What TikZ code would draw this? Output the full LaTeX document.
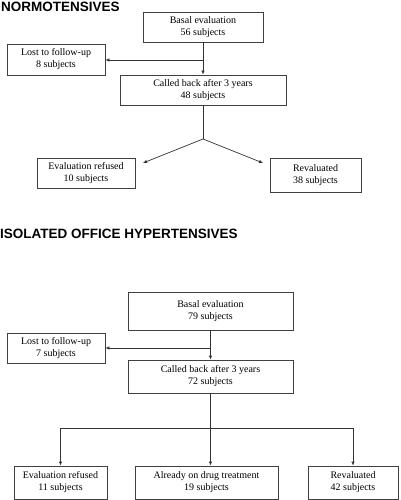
\documentclass[tikz,border=0pt]{standalone}
\usepackage{fontspec}
\setmainfont{Liberation Serif}
\newfontfamily\boxfont{Liberation Serif}
\newfontfamily\titlefont{Liberation Sans}
\usetikzlibrary{arrows.meta}
\begin{document}
\begin{tikzpicture}[x=1pt,y=-1pt,
  box/.style={draw=black!75,line width=0.7pt,align=center,font=\boxfont\fontsize{10}{12}\selectfont,inner sep=0pt},
  conn/.style={draw=black!80,line width=0.7pt},
  arr/.style={conn,-{Latex[length=4pt,width=3.5pt]}},
  ttl/.style={anchor=west,inner sep=0pt,font=\titlefont\bfseries\fontsize{13.5}{15}\selectfont}]
\useasboundingbox (0,0) rectangle (400,500);
% titles
\node[ttl] (t1) at (1,7) {NORMOTENSIVES};
\node[ttl] (t2) at (0,234) {ISOLATED OFFICE HYPERTENSIVES};
% top flow
\node[box,minimum width=120pt,minimum height=30pt] (b1) at (203,27) {Basal evaluation\\56 subjects};
\node[box,minimum width=98pt,minimum height=31pt] (l1) at (56,59.5) {Lost to follow-up\\8 subjects};
\node[box,minimum width=166pt,minimum height=30pt] (c1) at (203,90) {Called back after 3 years\\48 subjects};
\node[box,minimum width=98pt,minimum height=30pt] (e1) at (86,173) {Evaluation refused\\10 subjects};
\node[box,minimum width=91pt,minimum height=34pt] (v1) at (315.5,175) {Revaluated\\38 subjects};
\coordinate (j1) at (203,60);
\coordinate (s1) at (203,139);
\coordinate (pl) at (143,163);
\coordinate (pr) at (263,163);
\draw[arr] (b1.south) -- (c1.north);
\draw[arr] (j1) -- (l1.east |- j1);
\draw[conn] (c1.south) -- (s1);
\draw[arr] (s1) -- (pl);
\draw[arr] (s1) -- (pr);
% bottom flow
\node[box,minimum width=165pt,minimum height=38pt] (b2) at (210.5,311) {\raisebox{3.5pt}{\begin{tabular}{@{}c@{}}Basal evaluation\\79 subjects\end{tabular}}};
\node[box,minimum width=98pt,minimum height=30pt] (l2) at (56,348) {Lost to follow-up\\7 subjects};
\node[box,minimum width=165pt,minimum height=33pt] (c2) at (210.5,376.5) {Called back after 3 years\\72 subjects};
\node[box,minimum width=93pt,minimum height=33pt] (e2) at (60.5,482.5) {Evaluation refused\\11 subjects};
\node[box,minimum width=143pt,minimum height=33pt] (d2) at (206.5,482.5) {Already on drug treatment\\19 subjects};
\node[box,minimum width=90pt,minimum height=33pt] (v2) at (353,482.5) {Revaluated\\42 subjects};
\coordinate (j2) at (210.5,348);
\coordinate (h2) at (210.5,428);
\draw[arr] (b2.south) -- (c2.north);
\draw[arr] (j2) -- (l2.east |- j2);
\draw[arr] (c2.south) -- (c2.south |- d2.north);
\draw[conn] (e2.north |- h2) -- (v2.north |- h2);
\draw[arr] (e2.north |- h2) -- (e2.north);
\draw[arr] (v2.north |- h2) -- (v2.north);
\end{tikzpicture}
\end{document}
